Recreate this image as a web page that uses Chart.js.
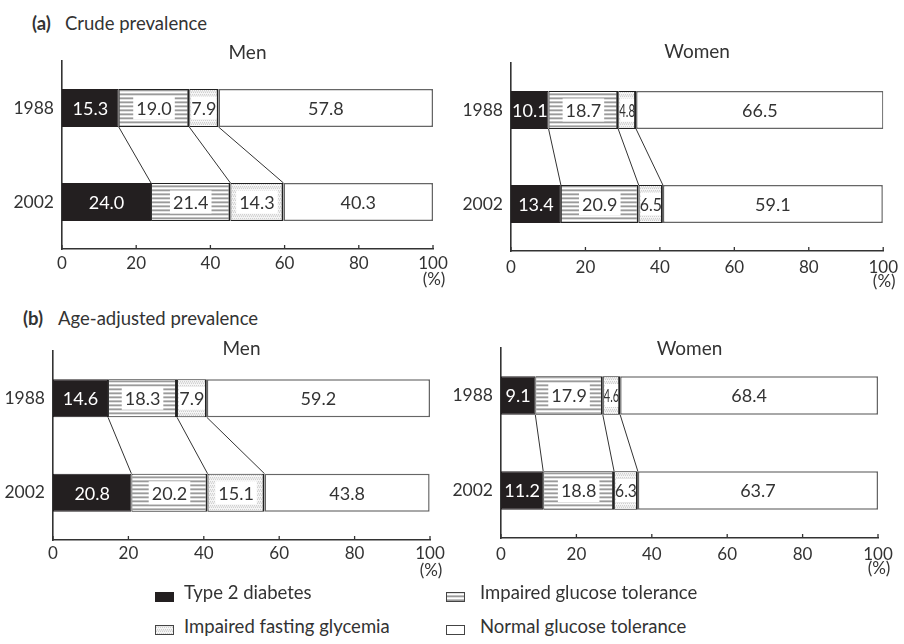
<!DOCTYPE html>
<html>
<head>
<meta charset="utf-8">
<script src="https://cdn.jsdelivr.net/npm/chart.js@4"></script>
<style>
  html, body { margin:0; padding:0; background:#fff; }
  body { width:904px; height:644px; position:relative; overflow:hidden; font-family:'Lato', sans-serif; color:#333; }
  canvas.panel { position:absolute; }
  .hdr { position:absolute; font-size:18.5px; line-height:22px; white-space:nowrap; color:#333; }
  .hdr b { font-weight:700; display:inline-block; }
  .lg { position:absolute; font-size:18.5px; line-height:22px; white-space:nowrap; color:#333; }
  .sw { position:absolute; }
</style>
</head>
<body>
<div class="hdr" style="left:32px; top:12px;"><b style="width:33px">(a)</b>Crude prevalence</div>
<div class="hdr" style="left:23px; top:307px;"><b style="width:35px">(b)</b>Age-adjusted prevalence</div>

<script>
// ---------- data ----------
const categories = ['1988', '2002'];
const seriesNames = ['Type 2 diabetes', 'Impaired glucose tolerance', 'Impaired fasting glycemia', 'Normal glucose tolerance'];
const xTicks = [0, 20, 40, 60, 80, 100];

// (a) Crude prevalence - Men
const crudeMenT2D = [15.3, 24.0];
const crudeMenIGT = [19.0, 21.4];
const crudeMenIFG = [7.9, 14.3];
const crudeMenNGT = [57.8, 40.3];
// (a) Crude prevalence - Women
const crudeWomenT2D = [10.1, 13.4];
const crudeWomenIGT = [18.7, 20.9];
const crudeWomenIFG = [4.8, 6.5];
const crudeWomenNGT = [66.5, 59.1];
// (b) Age-adjusted prevalence - Men
const adjMenT2D = [14.6, 20.8];
const adjMenIGT = [18.3, 20.2];
const adjMenIFG = [7.9, 15.1];
const adjMenNGT = [59.2, 43.8];
// (b) Age-adjusted prevalence - Women
const adjWomenT2D = [9.1, 11.2];
const adjWomenIGT = [17.9, 18.8];
const adjWomenIFG = [4.6, 6.3];
const adjWomenNGT = [68.4, 63.7];

// ---------- styling ----------
const FONT = "'Lato', sans-serif";
const TEXT = '#333';
Chart.defaults.font.family = FONT;
Chart.defaults.color = TEXT;

function makeStripePattern() {
  const c = document.createElement('canvas'); c.width = 4; c.height = 4;
  const g = c.getContext('2d');
  const rows = ['#9a9a9a', '#e2e2e2', '#ffffff', '#c2c2c2'];
  rows.forEach((col, i) => { g.fillStyle = col; g.fillRect(0, i, 4, 1); });
  return g.createPattern(c, 'repeat');
}
function makeDotPattern() {
  const c = document.createElement('canvas'); c.width = 4; c.height = 4;
  const g = c.getContext('2d');
  g.fillStyle = '#f5f5f5'; g.fillRect(0, 0, 4, 4);
  g.fillStyle = '#d0d0d0';
  g.fillRect(0, 0, 1, 1); g.fillRect(2, 0, 1, 1); g.fillRect(1, 2, 1, 1); g.fillRect(3, 2, 1, 1);
  g.fillStyle = '#e6e6e6';
  g.fillRect(0, 1, 4, 1);
  return g.createPattern(c, 'repeat');
}
const patIGT = makeStripePattern();
const patIFG = makeDotPattern();
const fills = ['#231f20', patIGT, patIFG, '#ffffff'];

const decoPlugin = {
  id: 'deco',
  afterDraw(chart, args, o) {
    const ctx = chart.ctx;
    const area = chart.chartArea;
    const xs = chart.scales.x;
    ctx.save();
    // connectors between the 1988 and 2002 bars
    ctx.strokeStyle = '#333'; ctx.lineWidth = 1;
    for (let d = 0; d < 3; d++) {
      const m = chart.getDatasetMeta(d);
      const a = m.data[0], b = m.data[1];
      ctx.beginPath();
      ctx.moveTo(a.x, a.y + a.height / 2);
      ctx.lineTo(b.x, b.y - b.height / 2);
      ctx.stroke();
    }
    // value labels
    ctx.font = '18px ' + FONT;
    ctx.textAlign = 'center';
    ctx.textBaseline = 'middle';
    chart.data.datasets.forEach((ds, d) => {
      const m = chart.getDatasetMeta(d);
      m.data.forEach((el, i) => {
        const txt = ds.data[i].toFixed(1);
        const left = Math.min(el.base, el.x), right = Math.max(el.base, el.x);
        const w = right - left, cx = (left + right) / 2;
        const tw = ctx.measureText(txt).width;
        if (d === 1 || d === 2) {
          const bw = Math.min(tw + 6, w - 4);
          ctx.fillStyle = '#fff';
          ctx.fillRect(cx - bw / 2, el.y - 11.5, bw, 23);
        }
        ctx.fillStyle = d === 0 ? '#fff' : TEXT;
        ctx.fillText(txt, cx, el.y + 1, Math.max(w - 2, 4));
      });
    });
    // small upward tick marks on the value axis
    ctx.strokeStyle = '#333'; ctx.lineWidth = 1.3;
    xTicks.forEach(v => {
      const px = xs.getPixelForValue(v);
      ctx.beginPath();
      ctx.moveTo(px, area.bottom);
      ctx.lineTo(px, area.bottom - 4);
      ctx.stroke();
    });
    // unit and panel title
    ctx.fillStyle = TEXT;
    ctx.textBaseline = 'alphabetic';
    ctx.font = '17px ' + FONT;
    ctx.fillText('(%)', xs.getPixelForValue(100) + 1, area.bottom + 36);
    ctx.font = '19px ' + FONT;
    ctx.fillText(o.title, (area.left + area.right) / 2, area.top + o.titleDy);
    ctx.restore();
  }
};

function makePanel(box, area, title, titleDy, tickPad, T2D, IGT, IFG, NGT) {
  const cv = document.createElement('canvas');
  cv.className = 'panel';
  cv.width = box.w; cv.height = box.h;
  cv.style.left = box.x + 'px'; cv.style.top = box.y + 'px';
  cv.style.width = box.w + 'px'; cv.style.height = box.h + 'px';
  document.body.appendChild(cv);
  const series = [T2D, IGT, IFG, NGT];
  const borders = ['#231f20', '#222', '#222', '#666'];
  const bw = [1, { top: 1, bottom: 1, left: 1, right: 2 }, { top: 1, bottom: 1, left: 1, right: 2 }, 1.5];
  return new Chart(cv, {
    type: 'bar',
    data: {
      labels: categories,
      datasets: series.map((s, i) => ({
        label: seriesNames[i], data: s,
        backgroundColor: fills[i], borderColor: borders[i], borderWidth: bw[i],
        borderSkipped: false, barPercentage: 0.404, categoryPercentage: 1
      }))
    },
    options: {
      indexAxis: 'y',
      responsive: false,
      animation: false,
      devicePixelRatio: 1,
      layout: { padding: { left: 0, top: area.y0 - box.y, right: box.x + box.w - area.x1, bottom: 0 } },
      scales: {
        x: {
          type: 'linear', min: 0, max: 100, stacked: true,
          grid: { display: false, drawTicks: false },
          border: { display: true, color: '#333', width: 1.6 },
          afterBuildTicks: s => { s.ticks = xTicks.map(v => ({ value: v })); },
          ticks: { font: { size: 17, family: FONT }, color: TEXT, padding: tickPad, maxRotation: 0 },
          afterFit: s => { s.height = box.y + box.h - area.y1; }
        },
        y: {
          type: 'category', stacked: true,
          grid: { display: false, drawTicks: false },
          border: { display: true, color: '#333', width: 1.6 },
          ticks: { font: { size: 17.5, family: FONT }, color: TEXT, padding: 8 },
          afterFit: s => { s.width = area.x0 - box.x; }
        }
      },
      plugins: {
        legend: { display: false },
        tooltip: { enabled: false },
        title: { display: false },
        deco: { title: title, titleDy: titleDy }
      }
    },
    plugins: [decoPlugin]
  });
}

makePanel({ x: 0, y: 30, w: 455, h: 275 }, { x0: 62, x1: 433, y0: 61, y1: 249 }, 'Men', -2, 4, crudeMenT2D, crudeMenIGT, crudeMenIFG, crudeMenNGT);
makePanel({ x: 455, y: 30, w: 449, h: 275 }, { x0: 511, x1: 887, y0: 63, y1: 251 }, 'Women', -5, 6, crudeWomenT2D, crudeWomenIGT, crudeWomenIFG, crudeWomenNGT);
makePanel({ x: 0, y: 325, w: 452, h: 262 }, { x0: 53, x1: 430, y0: 351, y1: 540 }, 'Men', 4, 3, adjMenT2D, adjMenIGT, adjMenIFG, adjMenNGT);
makePanel({ x: 452, y: 325, w: 452, h: 262 }, { x0: 501, x1: 878, y0: 348, y1: 538 }, 'Women', 7, 6, adjWomenT2D, adjWomenIGT, adjWomenIFG, adjWomenNGT);

// ---------- legend ----------
const legendPos = [
  { sx: 155, sy: 592, tx: 184, ty: 581 },
  { sx: 446, sy: 592, tx: 480, ty: 581 },
  { sx: 155, sy: 625, tx: 184, ty: 615 },
  { sx: 446, sy: 625, tx: 480, ty: 615 }
];
seriesNames.forEach((name, i) => {
  const p = legendPos[i];
  const sw = document.createElement('canvas');
  sw.className = 'sw'; sw.width = 19; sw.height = 10;
  sw.style.left = p.sx + 'px'; sw.style.top = p.sy + 'px';
  const g = sw.getContext('2d');
  g.fillStyle = fills[i]; g.fillRect(0, 0, 19, 10);
  if (i > 0) { g.strokeStyle = '#444'; g.lineWidth = 1; g.strokeRect(0.5, 0.5, 18, 9); }
  document.body.appendChild(sw);
  const t = document.createElement('div');
  t.className = 'lg'; t.textContent = name;
  t.style.left = p.tx + 'px'; t.style.top = p.ty + 'px';
  document.body.appendChild(t);
});
</script>
</body>
</html>
